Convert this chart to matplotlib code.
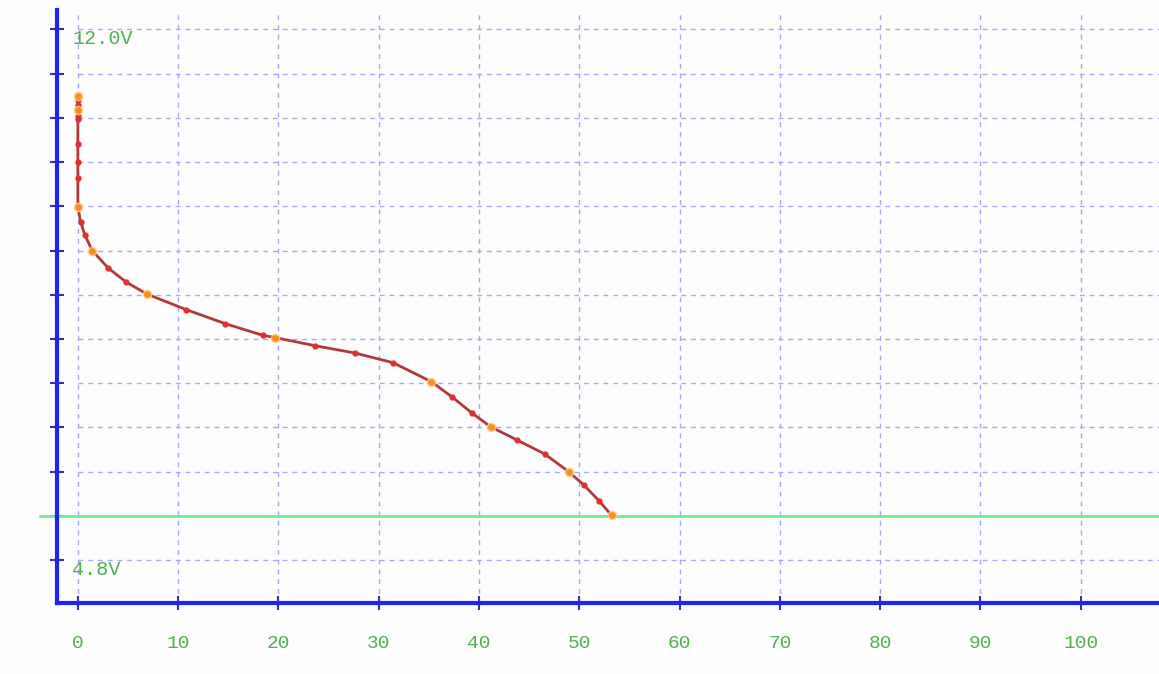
import matplotlib.pyplot as plt
import numpy as np

# discharge curve (time, voltage)
time_min = [0, 0, 0, 0, 0, 0, 0, 0, 0, 0,
            0.27, 0.70, 1.43, 3.04, 4.84, 6.88, 10.77, 14.66, 18.44, 19.64,
            23.63, 27.62, 31.41, 35.26, 37.26, 39.26, 41.15, 43.80, 46.56,
            48.95, 50.45, 51.94, 53.21]
volts = [11.10, 11.04, 10.97, 10.90, 10.83, 10.78, 10.45, 10.20, 9.99, 9.59,
         9.39, 9.21, 9.00, 8.76, 8.57, 8.41, 8.20, 8.01, 7.85, 7.82,
         7.71, 7.61, 7.48, 7.22, 7.02, 6.80, 6.61, 6.43, 6.24,
         6.00, 5.82, 5.61, 5.41]
# points highlighted in orange
marked = [0, 3, 9, 12, 15, 19, 23, 26, 29, 32]

cutoff_v = 5.4
v_ticks = np.round(np.arange(4.8, 12.01, 0.6), 1)
x_ticks = np.arange(0, 101, 10)

fig = plt.figure(figsize=(11.59, 6.74), dpi=100)
fig.patch.set_facecolor('#fdfdfd')
ax = fig.add_axes([0.049, 0.105, 0.951, 0.88])
ax.set_facecolor('#fdfdfd')
ax.set_xlim(-2.1, 107.8)
ax.set_ylim(4.217, 12.26)

grid_c = '#a8a8f2'
ax.hlines(v_ticks, 0, 110, colors=grid_c, linestyles=(0, (3.5, 3.5)), lw=1, zorder=1)
ax.vlines(x_ticks, 4.217, 12.26, colors=grid_c, linestyles=(0, (3.5, 3.5)), lw=1, zorder=1)

# cutoff line, sticks out a bit to the left of the axis
ax.axhline(cutoff_v, xmin=-0.015, xmax=1, color='#70ee90', lw=2, clip_on=False, zorder=2)

t = np.array(time_min)
v = np.array(volts)
ax.plot(t, v, '-', color='#b03a3a', lw=2, zorder=3)
ax.plot(t, v, 'o', color='#e03030', ms=3.5, zorder=4)
ax.plot(t[marked], v[marked], 'o', color='#ffa520', ms=6, alpha=0.8, mec='#ffd080', zorder=5)

for s in ['top', 'right']:
    ax.spines[s].set_visible(False)
for s in ['left', 'bottom']:
    ax.spines[s].set_color('#2222ee')
    ax.spines[s].set_linewidth(3)

ax.set_xticks(x_ticks)
ax.set_yticks(v_ticks)
ax.set_yticklabels([])
ax.tick_params(axis='both', direction='inout', length=10, width=1.5, color='#3333aa')
ax.tick_params(axis='x', pad=18, labelsize=14, labelcolor='#50b050')
for lab in ax.get_xticklabels():
    lab.set_family('Liberation Mono')

ax.text(-0.5, 12.0, '12.0V', color='#50b050', fontsize=14.5, family='Liberation Mono',
        ha='left', va='top')
ax.text(-0.6, 4.8, '4.8V', color='#50b050', fontsize=14.5, family='Liberation Mono',
        ha='left', va='top')

plt.savefig('out.png', dpi=100, facecolor=fig.get_facecolor())
